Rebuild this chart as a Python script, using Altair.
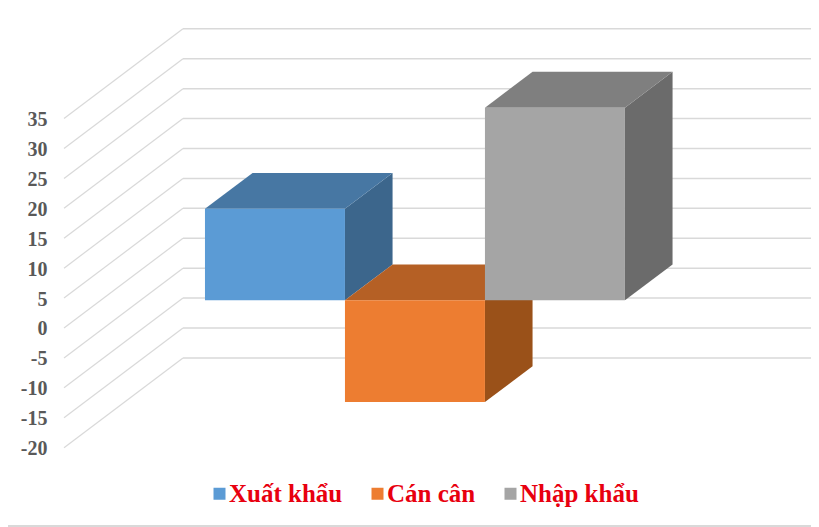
import altair as alt
import pandas as pd

# Chart values
series_names = ["Xuất khẩu", "Cán cân", "Nhập khẩu"]
series_values = [15.3, -17.0, 32.2]
tick_values = [35, 30, 25, 20, 15, 10, 5, 0, -5, -10, -15, -20]

# Colours per face
front_colors = ["#5B9BD5", "#ED7D31", "#A5A5A5"]
top_colors = ["#4777A3", "#B56025", "#7F7F7F"]
side_colors = ["#3C668C", "#9A5119", "#6B6B6B"]
GRID = "#D9D9D9"

# Oblique 3D projection, in data units (1 x unit = one bar width)
WALL_LEFT, WALL_BACK, WALL_RIGHT = -1.007, -0.157, 4.329
WALL_LIFT = 15.0
BAR_LIFT = 4.62
BAR_DX, BAR_DLIFT = 0.34, 6.0
X_DOMAIN = [-1.407, 4.329]
Y_DOMAIN = [-33.26, 53.48]

W, H = 803, 519
FONT = "Liberation Serif"

xs = alt.Scale(domain=X_DOMAIN, nice=False, zero=False)
ys = alt.Scale(domain=Y_DOMAIN, nice=False, zero=False)
X = alt.X("x:Q", scale=xs, axis=None)
Y_PLAIN = alt.Y("y:Q", scale=ys, axis=None, stack=None)
Y_AXIS = alt.Y(
    "y:Q", scale=ys, stack=None,
    axis=alt.Axis(
        values=tick_values, title=None, grid=False, domain=False, ticks=False,
        labelFont=FONT, labelFontSize=20, labelFontWeight="bold", labelColor="#595959",
        labelPadding=0, labelOffset=1, offset=-39, labelExpr="'' + datum.value",
    ),
)

grid_df = pd.DataFrame({"v": tick_values})
grid_df["x"] = WALL_LEFT
grid_df["x2"] = WALL_BACK
grid_df["x3"] = WALL_RIGHT
grid_df["y"] = grid_df["v"]
grid_df["y2"] = grid_df["v"] + WALL_LIFT

diag = alt.Chart(grid_df).mark_rule(color=GRID, strokeWidth=1.2).encode(
    x=X, x2="x2:Q", y=Y_AXIS, y2="y2:Q"
)
back = alt.Chart(grid_df).mark_rule(color=GRID, strokeWidth=1.5).encode(
    x=alt.X("x2:Q", scale=xs, axis=None), x2="x3:Q", y=alt.Y("y2:Q", scale=ys, axis=None)
)
frame = alt.Chart(pd.DataFrame({"x": [X_DOMAIN[0]], "x2": [X_DOMAIN[1]], "y": [Y_DOMAIN[0] + 0.17]})).mark_rule(
    color=GRID, strokeWidth=2
).encode(x=X, x2="x2:Q", y=Y_PLAIN)

layers = [frame, diag, back]
for i, (name, v) in enumerate(zip(series_names, series_values)):
    L, R = float(i), float(i + 1)
    cap = BAR_LIFT + max(v, 0)
    base = BAR_LIFT + v

    top_df = pd.DataFrame({
        "x": [L, L + BAR_DX, R, R + BAR_DX],
        "y": [cap, cap + BAR_DLIFT, cap + BAR_DLIFT, cap + BAR_DLIFT],
        "y2": [cap, cap, cap, cap + BAR_DLIFT],
    })
    side_df = pd.DataFrame({
        "x": [R, R + BAR_DX],
        "y": [BAR_LIFT, BAR_LIFT + BAR_DLIFT],
        "y2": [base, base + BAR_DLIFT],
    })
    front_df = pd.DataFrame({"x": [L], "x2": [R], "y": [BAR_LIFT], "y2": [base], "series": [name]})

    layers.append(alt.Chart(side_df).mark_area(interpolate="linear", color=side_colors[i]).encode(
        x=X, y=Y_PLAIN, y2="y2:Q"))
    layers.append(alt.Chart(top_df).mark_area(interpolate="linear", color=top_colors[i]).encode(
        x=X, y=Y_PLAIN, y2="y2:Q"))
    layers.append(alt.Chart(front_df).mark_rect().encode(
        x=X, x2="x2:Q", y=Y_PLAIN, y2="y2:Q",
        color=alt.Color(
            "series:N",
            scale=alt.Scale(domain=series_names, range=front_colors),
            legend=alt.Legend(
                title=None, orient="none", legendX=199, legendY=473, direction="horizontal",
                columns=3, columnPadding=22, symbolType="square", symbolSize=144,
                symbolStrokeWidth=0, labelOffset={"expr": "-3"}, labelFont=FONT, labelFontSize=25,
                labelFontWeight="bold", labelColor="#E8000F", labelLimit=200,
            ),
        ),
    ))

chart = alt.layer(*layers).resolve_axis(y="independent").properties(
    width=W, height=H, padding=0, autosize=alt.AutoSizeParams(type="none"), background="white"
).configure_view(stroke=None)

chart.save("out.html", embed_options={"renderer": "svg", "actions": False})
